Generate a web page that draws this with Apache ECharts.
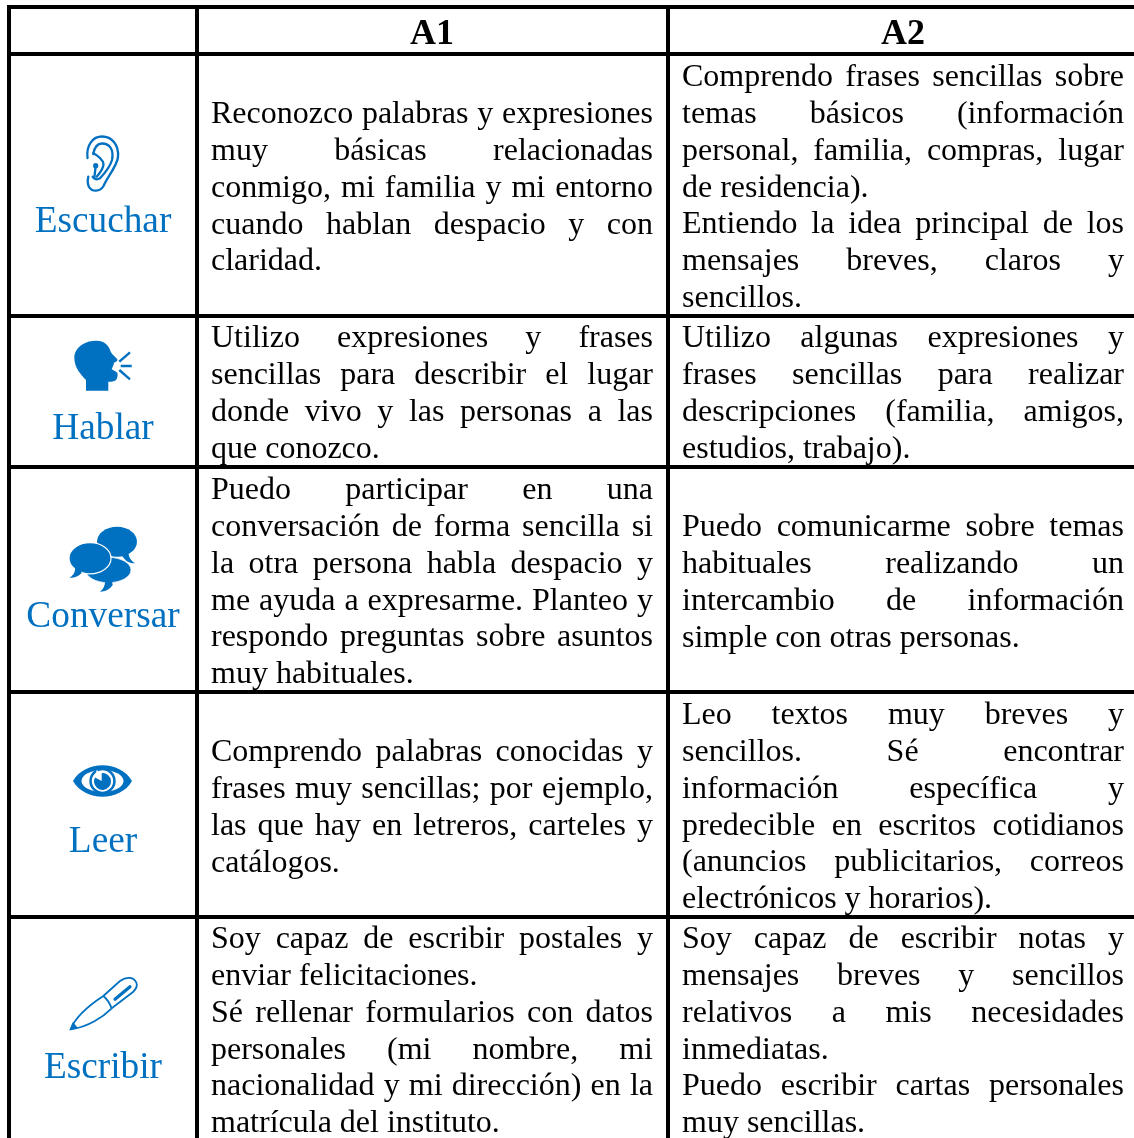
<!DOCTYPE html>
<html><head><meta charset="utf-8">
<script src="https://cdn.jsdelivr.net/npm/echarts@6/dist/echarts.min.js"></script>
<style>html,body{margin:0;padding:0;background:#fff}#c{width:1134px;height:1138px}</style>
</head><body><div id="c"></div>
<script>
const headers = ['A1','A2'];
const skills = ['Escuchar','Hablar','Conversar','Leer','Escribir'];
const a1Text = [
 [['Reconozco palabras y expresiones','muy básicas relacionadas','conmigo, mi familia y mi entorno','cuando hablan despacio y con','claridad.']],
 [['Utilizo expresiones y frases','sencillas para describir el lugar','donde vivo y las personas a las','que conozco.']],
 [['Puedo participar en una','conversación de forma sencilla si','la otra persona habla despacio y','me ayuda a expresarme. Planteo y','respondo preguntas sobre asuntos','muy habituales.']],
 [['Comprendo palabras conocidas y','frases muy sencillas; por ejemplo,','las que hay en letreros, carteles y','catálogos.']],
 [['Soy capaz de escribir postales y','enviar felicitaciones.'],['Sé rellenar formularios con datos','personales (mi nombre, mi','nacionalidad y mi dirección) en la','matrícula del instituto.']]
];
const a2Text = [
 [['Comprendo frases sencillas sobre','temas básicos (información','personal, familia, compras, lugar','de residencia).'],['Entiendo la idea principal de los','mensajes breves, claros y','sencillos.']],
 [['Utilizo algunas expresiones y','frases sencillas para realizar','descripciones (familia, amigos,','estudios, trabajo).']],
 [['Puedo comunicarme sobre temas','habituales realizando un','intercambio de información','simple con otras personas.']],
 [['Leo textos muy breves y','sencillos. Sé encontrar','información específica y','predecible en escritos cotidianos','(anuncios publicitarios, correos','electrónicos y horarios).']],
 [['Soy capaz de escribir notas y','mensajes breves y sencillos','relativos a mis necesidades','inmediatas.'],['Puedo escribir cartas personales','muy sencillas.']]
];

const BLUE='#0070C0', SERIF='"Liberation Serif","Times New Roman",serif';
const BODY='32px '+SERIF, LABEL='37.3px '+SERIF, HEAD='bold 36px '+SERIF;
const rowY=[7,54,316,467,692,917], colX=[9,197,668];
const firstA1=[115,339,491,753,940], firstA2=[78,339,528,716,940];
const labelY=[222,429,617,842,1068];
const step=36.7, A1L=211,A2L=682,W=442;
const ctx=document.createElement('canvas').getContext('2d');
const g=[];
let shapeId=0;
function line(x1,y1,x2,y2,w){g.push({type:'line',shape:{x1,y1,x2,y2},style:{stroke:'#000',lineWidth:w}});}
function txt(t,x,y,font,fill,align){g.push({type:'text',x,y,style:{text:t,font,fill:fill||'#000',align:align||'left',verticalAlign:'middle'}});}
function cell(paras,left,y0){
  let y=y0; ctx.font=BODY;
  paras.forEach(p=>p.forEach((l,i)=>{
    if(i===p.length-1){txt(l,left,y,BODY);}
    else{
      const ws=l.split(' ');const tot=ws.reduce((a,w)=>a+ctx.measureText(w).width,0);
      const gap=(W-tot)/(ws.length-1);let x=left;
      ws.forEach(w=>{txt(w,x,y,BODY);x+=ctx.measureText(w).width+gap;});
    }
    y+=step;
  }));
}
rowY.forEach(y=>line(7,y,1134,y,4));
colX.forEach(x=>line(x,5,x,1138,4));
txt(headers[0],432,35,HEAD,'#000','center');txt(headers[1],903,35,HEAD,'#000','center');
skills.forEach((s,i)=>{
  txt(s,103,labelY[i],LABEL,BLUE,'center');
  cell(a1Text[i],A1L,firstA1[i]);cell(a2Text[i],A2L,firstA2[i]);
});
function path(d,style){
  const name='icon'+(shapeId++);
  echarts.graphic.registerShape(name,echarts.graphic.extendPath(d));
  g.push({type:name,style});
}
const S={fill:'none',stroke:BLUE,lineWidth:2.3,lineCap:'round',lineJoin:'round'};
// ear
path('M87.5 158C86 145 93 136.5 102 136.5C112 136.5 119 145 118 157C117 166 108 176 103.5 186C100 192 92 192 89 187C87.5 184 87.5 180 88.3 176.7',S);
path('M93.3 154C94.5 147 98 143.5 102 143.5C110 143.5 114 150 112 160C110 167 104 174 100 178.3C97 180 94 179.5 92.7 176.7',S);
path('M93.3 153.3C98 155.5 103 160 103.5 164C103.5 169 100 173 96.7 176.7',S);
path('M95.7 166L94.3 178',S);
g.push({type:'circle',shape:{cx:95.7,cy:165.7,r:2.6},style:{fill:BLUE}});
// speaker
path('M95 340.7C100 340.5 103 341.5 105 343.3C108 345.5 110 349 110.7 351.7C112 354.5 115 356.5 117.3 359.3C118 361 116 362 114 362.7C113.7 364.5 113.5 365.5 112.7 366.7L111.7 369.3C113.5 370.5 116 371.5 117.3 372.7C117.8 374.5 117.6 376 117.3 377.3C116.8 379 116 380.5 115 380.7C113 381.7 110.5 381.7 108.3 381.7L108.3 390.7L86 390.7L86 380C81 374.5 74.5 368 74.3 358C74.3 348 84 341 95 340.7Z',{fill:BLUE});
path('M119.3 361.7L130 352.3M120.7 366L131.7 366M119.3 370L130 379.3',Object.assign({},S,{lineWidth:2.4,lineCap:'butt'}));
// bubbles
g.push({type:'ellipse',shape:{cx:117,cy:541.7,rx:20,ry:15},style:{fill:BLUE}});
path('M128.3 553.3C129 558 131.5 561.5 135 563.3C131 563.6 127.5 562.3 125 559.5L122 556Z',{fill:BLUE});
g.push({type:'ellipse',shape:{cx:108.3,cy:570,rx:22.7,ry:12.7},style:{fill:BLUE,stroke:'#fff',lineWidth:0.8}});
path('M105 581.7C105 586 103 589.5 100 591.7C105 591.8 109.5 589.5 112.7 585L112 581Z',{fill:BLUE});
g.push({type:'ellipse',shape:{cx:90,cy:558.3,rx:21,ry:15.6},style:{fill:BLUE,stroke:'#fff',lineWidth:1.2}});
path('M75 568C75.5 572 73 575.8 69.3 577.7C74 578.2 78.5 576.5 81.7 573L80 569Z',{fill:BLUE});
// eye
path('M73 781C85 760 120 760 132 781C120 802 85 802 73 781ZM81 781C92 772 113 772 124 781C113 790 92 790 81 781Z',{fill:BLUE});
g.push({type:'ellipse',shape:{cx:102.5,cy:781,rx:21,ry:11},style:{fill:'#fff'}});
g.push({type:'ring',shape:{cx:102.5,cy:781,r:13.2,r0:10.7},style:{fill:BLUE}});
path('M101.7 773A8.5 8.5 0 1 1 95 777.5L101.7 781Z',{fill:BLUE});
path('M96.7 770.5L100 778',{fill:'none',stroke:'#fff',lineWidth:1.6});
// pen
path('M70.7 1029.3C75 1018 88 1006 103.3 996C107 999 110 1004 111.7 1008.3C103 1017 88 1027 70.7 1029.3ZM103.3 996L120 981C127 976 134 977 136.5 983C138 987 135 990 133 992L111.7 1008.3',Object.assign({},S,{lineWidth:1.8}));
path('M115 999.3L130 986.7',Object.assign({},S,{lineWidth:3.2}));
path('M70.7 1029.3L76.5 1027.5L73 1023.5Z',{fill:BLUE,stroke:BLUE,lineWidth:1.5});
const chart=echarts.init(document.getElementById('c'),null,{renderer:'canvas'});
chart.setOption({animation:false,backgroundColor:'#fff',graphic:{elements:g}});
</script></body></html>
